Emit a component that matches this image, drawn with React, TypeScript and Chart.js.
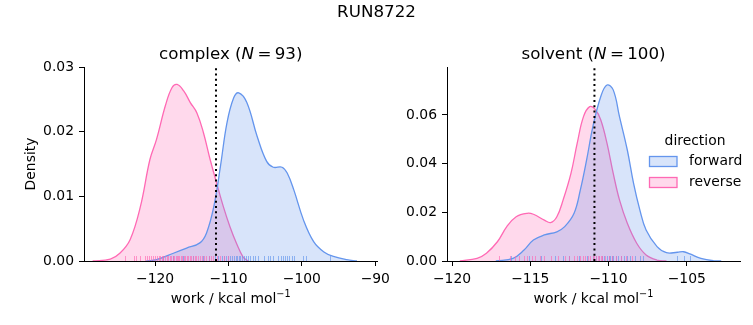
import React, { useEffect, useRef } from "react";
import { Chart, registerables } from "chart.js";
Chart.register(...registerables);

const FAM = "'DejaVu Sans', sans-serif";
const BLUE = "#6495ed";
const PINK = "#ff69b4";
const BLUE_FILL = "rgba(100,149,237,0.25)";
const PINK_FILL = "rgba(255,105,180,0.25)";

const figureTitle = "RUN8722";
const directionLabels = ["forward", "reverse"];

// complex panel
const complexN = 93;
const complexXTicks = [-120, -110, -100, -90];
const complexXTickLabels = ["\u2212120", "\u2212110", "\u2212100", "\u221290"];
const complexYTicks = [0, 0.01, 0.02, 0.03];
const complexYTickLabels = ["0.00", "0.01", "0.02", "0.03"];
const complexXRange = [-129.68, -89.7];
const complexYRange = [0, 0.03];
const complexMeanLine = -111.7;

const complexForwardX = [-121.2, -119.8, -117.5, -115.7, -113.9, -113.0, -112.0, -111.1, -110.2, -109.3, -108.6, -107.5, -106.1, -104.8, -103.9, -102.7, -102.0, -101.1, -99.8, -98.4, -97.0, -95.7, -93.9, -92.5];
const complexForwardY = [0, 0.0002, 0.0012, 0.002, 0.0028, 0.0043, 0.0084, 0.0146, 0.0214, 0.0252, 0.026, 0.0245, 0.0193, 0.0154, 0.0145, 0.0145, 0.0136, 0.011, 0.0064, 0.003, 0.0014, 0.0007, 0.0002, 0];
const complexReverseX = [-128.5, -126.1, -124.8, -123.4, -122.0, -120.7, -119.8, -118.6, -117.7, -117.0, -116.1, -115.2, -114.3, -113.4, -112.5, -111.6, -110.7, -109.8, -108.9, -108.0, -107.3];
const complexReverseY = [0, 0.0003, 0.0012, 0.0033, 0.0084, 0.0157, 0.0188, 0.024, 0.0268, 0.0273, 0.0263, 0.0245, 0.0229, 0.0198, 0.0157, 0.012, 0.0084, 0.0053, 0.0027, 0.0006, 0];
const complexForwardRug = [-118.9, -117.6, -116.2, -114.8, -113.5, -112.6, -111.9, -111.4, -110.9, -110.6, -110.3, -110.0, -109.8, -109.5, -109.3, -109.0, -108.8, -108.6, -108.4, -108.1, -107.9, -107.6, -107.3, -107.0, -106.7, -106.4, -106.0, -105.2, -104.6, -104.3, -104.0, -103.3, -102.9, -102.6, -102.3, -102.0, -101.7, -101.4, -101.1, -99.9, -99.4, -96.2];
const complexReverseRug = [-124.1, -122.9, -122.6, -122.0, -121.4, -121.1, -120.8, -120.5, -120.3, -120.0, -119.8, -119.5, -119.3, -119.1, -118.9, -118.6, -118.4, -118.2, -118.0, -117.8, -117.6, -117.4, -117.2, -117.0, -116.9, -116.7, -116.5, -116.3, -116.1, -115.9, -115.7, -115.5, -115.3, -115.1, -114.9, -114.6, -114.4, -114.2, -113.9, -113.6, -113.3, -113.0, -112.7, -112.4, -112.1, -111.6, -111.2, -110.6, -110.1];

// solvent panel
const solventN = 100;
const solventXTicks = [-120, -115, -110, -105];
const solventXTickLabels = ["\u2212120", "\u2212115", "\u2212110", "\u2212105"];
const solventYTicks = [0, 0.02, 0.04, 0.06];
const solventYTickLabels = ["0.00", "0.02", "0.04", "0.06"];
const solventXRange = [-120.32, -101.6];
const solventYRange = [0, 0.0797];
const solventMeanLine = -110.9;

const solventForwardX = [-117.2, -116.1, -115.4, -114.8, -114.1, -113.3, -112.8, -112.2, -111.8, -111.4, -111.0, -110.5, -110.1, -109.7, -109.3, -108.8, -108.4, -108.0, -107.6, -106.9, -106.3, -105.6, -105.2, -104.8, -104.1, -103.3, -102.8];
const solventForwardY = [0, 0.0011, 0.0045, 0.0086, 0.0107, 0.012, 0.0141, 0.0196, 0.0292, 0.0415, 0.0552, 0.0675, 0.0723, 0.0703, 0.0593, 0.0456, 0.0319, 0.021, 0.0127, 0.0059, 0.0034, 0.0036, 0.0038, 0.0029, 0.0011, 0.0001, 0];
const solventReverseX = [-119.5, -118.4, -117.8, -117.1, -116.5, -115.9, -115.2, -114.8, -114.1, -113.7, -113.3, -112.9, -112.4, -112.0, -111.6, -111.2, -110.85, -110.5, -110.1, -109.7, -109.3, -108.8, -108.2, -107.6, -106.9, -106.3];
const solventReverseY = [0, 0.0011, 0.0032, 0.0079, 0.0141, 0.0182, 0.0196, 0.0192, 0.0168, 0.0158, 0.0182, 0.0251, 0.036, 0.0484, 0.0593, 0.0634, 0.0623, 0.058, 0.0484, 0.036, 0.0251, 0.0155, 0.0073, 0.0025, 0.0004, 0];
const solventForwardRug = [-116.2, -115.1, -114.3, -113.4, -112.9, -112.5, -111.9, -111.4, -111.0, -110.8, -110.6, -110.4, -110.3, -110.1, -110.0, -109.9, -109.8, -109.7, -109.5, -109.4, -109.2, -109.0, -108.8, -108.6, -108.3, -108.0, -107.8, -105.6, -105.2, -104.8];
const solventReverseRug = [-117.0, -116.3, -116.0, -115.7, -115.4, -115.2, -114.9, -114.7, -114.4, -114.1, -113.7, -113.2, -112.8, -112.5, -112.2, -112.0, -111.8, -111.6, -111.5, -111.3, -111.2, -111.0, -110.9, -110.8, -110.7, -110.6, -110.5, -110.4, -110.2, -110.0, -109.8, -109.5, -109.2, -108.9, -108.5];

const W = 753;
const H = 325;
const TICK = 13.9;

type Run = { t: string; f: string; dy?: number };
function drawRuns(ctx: CanvasRenderingContext2D, runs: Run[], cx: number, cy: number) {
  let total = 0;
  const ws = runs.map((r) => {
    ctx.font = r.f;
    const w = ctx.measureText(r.t).width;
    total += w;
    return w;
  });
  let x = cx - total / 2;
  ctx.textBaseline = "middle";
  ctx.textAlign = "left";
  ctx.fillStyle = "#000";
  runs.forEach((r, i) => {
    ctx.font = r.f;
    ctx.fillText(r.t, x, cy + (r.dy || 0));
    x += ws[i];
  });
}

function pts(xs: number[], ys: number[]) {
  return xs.map((x, i) => ({ x, y: ys[i] }));
}

type PanelCfg = {
  name: string;
  n: number;
  xTicks: number[];
  xTickLabels: string[];
  yTicks: number[];
  yTickLabels: string[];
  xRange: number[];
  yRange: number[];
  mean: number;
  fx: number[];
  fy: number[];
  rx: number[];
  ry: number[];
  fRug: number[];
  rRug: number[];
  area: { left: number; right: number; top: number; bottom: number };
  density: boolean;
  legend: boolean;
  figTitle: boolean;
};

function makeChart(canvas: HTMLCanvasElement, c: PanelCfg) {
  const yW = 50;
  const xH = 40;
  const annot = {
    id: "annot" + c.name,
    afterDatasetsDraw(chart: any) {
      const ctx: CanvasRenderingContext2D = chart.ctx;
      const xs = chart.scales.x;
      const ca = chart.chartArea;
      const drawRug = (vals: number[], col: string) => {
        ctx.save();
        ctx.strokeStyle = col;
        ctx.globalAlpha = 0.65;
        ctx.lineWidth = 1;
        vals.forEach((v) => {
          const px = Math.round(xs.getPixelForValue(v)) + 0.5;
          ctx.beginPath();
          ctx.moveTo(px, ca.bottom);
          ctx.lineTo(px, ca.bottom - 5);
          ctx.stroke();
        });
        ctx.restore();
      };
      drawRug(c.fRug, BLUE);
      drawRug(c.rRug, PINK);
      const mx = xs.getPixelForValue(c.mean);
      ctx.save();
      ctx.strokeStyle = "#000";
      ctx.lineWidth = 2;
      ctx.setLineDash([2, 3.3]);
      ctx.beginPath();
      ctx.moveTo(mx, ca.bottom);
      ctx.lineTo(mx, ca.top);
      ctx.stroke();
      ctx.restore();
    },
    afterDraw(chart: any) {
      const ctx: CanvasRenderingContext2D = chart.ctx;
      const ca = chart.chartArea;
      const cx = (ca.left + ca.right) / 2;
      ctx.save();
      const f = `${TICK}px ${FAM}`;
      const fi = `italic ${16.7}px ${FAM}`;
      const ft = `${16.7}px ${FAM}`;
      if (c.figTitle) {
        drawRuns(ctx, [{ t: figureTitle, f: ft }], W / 2, 13);
      }
      drawRuns(
        ctx,
        [
          { t: `${c.name} (`, f: ft },
          { t: "N", f: fi },
          { t: `\u2009=\u2009${c.n})`, f: ft },
        ],
        cx,
        55
      );
      drawRuns(
        ctx,
        [
          { t: "work / kcal mol", f: f },
          { t: "\u22121", f: `${9.7}px ${FAM}`, dy: -5 },
        ],
        cx,
        299
      );
      if (c.density) {
        ctx.save();
        ctx.translate(31, (ca.top + ca.bottom) / 2);
        ctx.rotate(-Math.PI / 2);
        drawRuns(ctx, [{ t: "Density", f }], 0, 0);
        ctx.restore();
      }
      if (c.legend) {
        drawRuns(ctx, [{ t: "direction", f }], 695, 141);
        const rows = [
          { label: directionLabels[0], line: BLUE, fill: BLUE_FILL, y: 161.5 },
          { label: directionLabels[1], line: PINK, fill: PINK_FILL, y: 182.5 },
        ];
        rows.forEach((r) => {
          ctx.fillStyle = "#fff";
          ctx.fillRect(649.5, r.y - 5, 27.5, 10);
          ctx.fillStyle = r.fill;
          ctx.fillRect(649.5, r.y - 5, 27.5, 10);
          ctx.strokeStyle = r.line;
          ctx.lineWidth = 1.3;
          ctx.strokeRect(649.5, r.y - 5, 27.5, 10);
          ctx.font = f;
          ctx.fillStyle = "#000";
          ctx.textAlign = "left";
          ctx.textBaseline = "middle";
          ctx.fillText(r.label, 689, r.y);
        });
      }
      ctx.restore();
    },
  };

  const tickFont = { family: FAM, size: TICK };
  return new Chart(canvas, {
    type: "line",
    data: {
      datasets: [
        {
          label: directionLabels[0],
          data: pts(c.fx, c.fy),
          borderColor: BLUE,
          backgroundColor: BLUE_FILL,
          fill: "origin",
          borderWidth: 1.3,
          pointRadius: 0,
          tension: 0.4,
        },
        {
          label: directionLabels[1],
          data: pts(c.rx, c.ry),
          borderColor: PINK,
          backgroundColor: PINK_FILL,
          fill: "origin",
          borderWidth: 1.3,
          pointRadius: 0,
          tension: 0.4,
        },
      ] as any,
    },
    options: {
      responsive: false,
      animation: false,
      devicePixelRatio: 1,
      events: [],
      layout: {
        padding: {
          left: c.area.left - yW,
          right: W - c.area.right,
          top: c.area.top,
          bottom: H - c.area.bottom - xH,
        },
      },
      plugins: {
        legend: { display: false },
        tooltip: { enabled: false },
        title: { display: false },
      },
      scales: {
        x: {
          type: "linear",
          min: c.xRange[0],
          max: c.xRange[1],
          afterBuildTicks: (s: any) => {
            s.ticks = c.xTicks.map((v) => ({ value: v }));
          },
          afterFit: (s: any) => {
            s.height = xH;
          },
          ticks: {
            callback: (v: any) => c.xTickLabels[c.xTicks.indexOf(Number(v))] ?? "",
            font: tickFont,
            color: "#000",
            padding: 5.5,
            maxRotation: 0,
            autoSkip: false,
          },
          grid: {
            display: true,
            drawOnChartArea: false,
            drawTicks: true,
            tickLength: 5,
            color: "#000",
            lineWidth: 1,
          },
          border: { display: true, color: "#000", width: 1 },
        },
        y: {
          type: "linear",
          min: c.yRange[0],
          max: c.yRange[1],
          afterBuildTicks: (s: any) => {
            s.ticks = c.yTicks.map((v) => ({ value: v }));
          },
          afterFit: (s: any) => {
            s.width = yW;
          },
          ticks: {
            callback: (v: any) => {
              const i = c.yTicks.findIndex((t) => Math.abs(t - Number(v)) < 1e-9);
              return i >= 0 ? c.yTickLabels[i] : "";
            },
            font: tickFont,
            color: "#000",
            padding: 5,
            autoSkip: false,
          },
          grid: {
            display: true,
            drawOnChartArea: false,
            drawTicks: true,
            tickLength: 5,
            color: "#000",
            lineWidth: 1,
          },
          border: { display: true, color: "#000", width: 1 },
        },
      },
    } as any,
    plugins: [annot],
  });
}

export default function App() {
  const aRef = useRef<HTMLCanvasElement>(null);
  const bRef = useRef<HTMLCanvasElement>(null);
  useEffect(() => {
    const a = makeChart(aRef.current!, {
      name: "complex",
      n: complexN,
      xTicks: complexXTicks,
      xTickLabels: complexXTickLabels,
      yTicks: complexYTicks,
      yTickLabels: complexYTickLabels,
      xRange: complexXRange,
      yRange: complexYRange,
      mean: complexMeanLine,
      fx: complexForwardX,
      fy: complexForwardY,
      rx: complexReverseX,
      ry: complexReverseY,
      fRug: complexForwardRug,
      rRug: complexReverseRug,
      area: { left: 84, right: 377.5, top: 67, bottom: 261 },
      density: true,
      legend: false,
      figTitle: true,
    });
    const b = makeChart(bRef.current!, {
      name: "solvent",
      n: solventN,
      xTicks: solventXTicks,
      xTickLabels: solventXTickLabels,
      yTicks: solventYTicks,
      yTickLabels: solventYTickLabels,
      xRange: solventXRange,
      yRange: solventYRange,
      mean: solventMeanLine,
      fx: solventForwardX,
      fy: solventForwardY,
      rx: solventReverseX,
      ry: solventReverseY,
      fRug: solventForwardRug,
      rRug: solventReverseRug,
      area: { left: 447, right: 740, top: 67, bottom: 261 },
      density: false,
      legend: true,
      figTitle: false,
    });
    return () => {
      a.destroy();
      b.destroy();
    };
  }, []);
  const cs: React.CSSProperties = { position: "absolute", left: 0, top: 0, width: W, height: H };
  return (
    <div style={{ position: "fixed", left: 0, top: 0, width: W, height: H, background: "#fff" }}>
      <canvas ref={aRef} width={W} height={H} style={cs} />
      <canvas ref={bRef} width={W} height={H} style={cs} />
    </div>
  );
}
